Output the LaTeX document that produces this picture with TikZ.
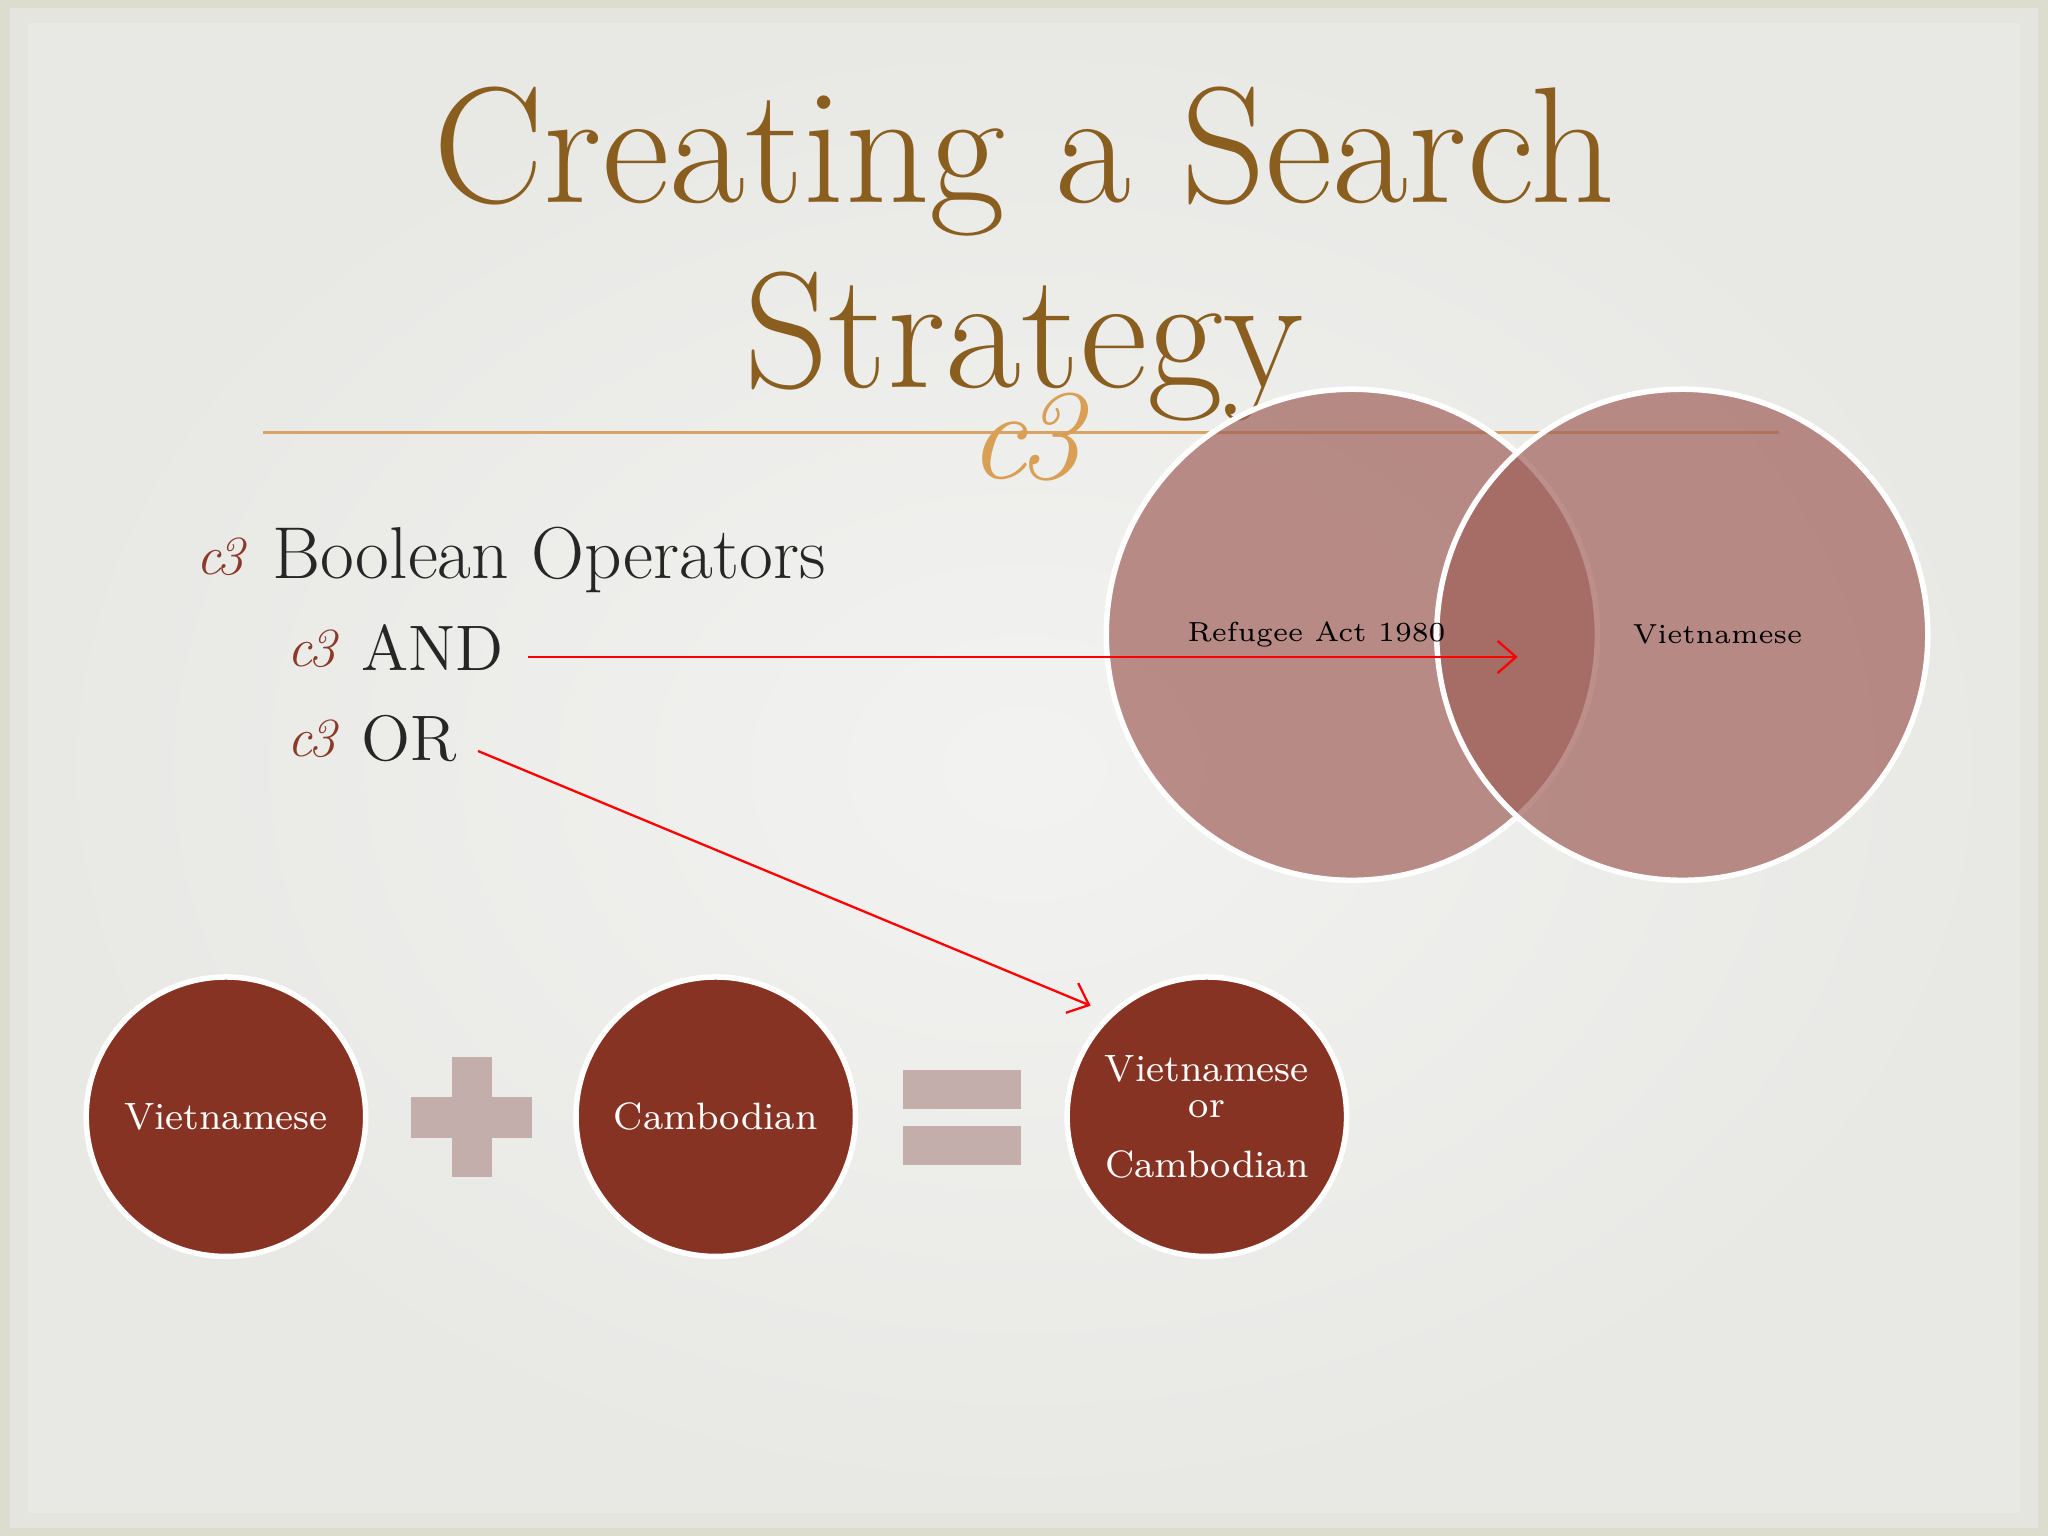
\documentclass[tikz,border=0pt]{standalone}
\usetikzlibrary{arrows.meta}
\definecolor{bgc}{HTML}{E8E8E5}
\definecolor{edge}{HTML}{DCDDCF}
\definecolor{titlec}{HTML}{8A5E1F}
\definecolor{linec}{HTML}{D6A466}
\definecolor{orn}{HTML}{D9A055}
\definecolor{bul}{HTML}{8B3A2A}
\definecolor{venn}{HTML}{A0605A}
\definecolor{dark}{HTML}{873324}
\definecolor{opc}{HTML}{C4AEAB}
\tikzset{
 bigc/.style={circle,draw=white,line width=1.2pt,fill=dark,minimum size=214*0.01cm,inner sep=0pt,text=white,font=\fontsize{8.3}{11}\selectfont,align=center},
 vc/.style={circle,draw=white,line width=1.2pt,fill=venn,fill opacity=0.7,minimum size=376*0.01cm,inner sep=0pt},
 lbl/.style={font=\fontsize{6}{8}\selectfont,text=black},
 arr/.style={red,line width=0.5pt,-{Straight Barb[length=4pt,width=7pt]}},
 bt/.style={anchor=base west,text=black!85},
 bl/.style={anchor=base west,text=bul,font=\itshape\fontsize{12}{13}\selectfont}
}
\begin{document}
\begin{tikzpicture}[x=0.01cm,y=-0.01cm]
\useasboundingbox (0,0) rectangle (1568,1176);
\fill[edge] (0,0) rectangle (1568,1176);
\fill[bgc!70!edge] (8,6) rectangle (1560,1170);
\shade[inner color=bgc!55!white,outer color=bgc] (22,18) rectangle (1546,1158);
% title
\node[text=titlec,font=\fontsize{36}{40}\selectfont,anchor=base] (t1) at (784,155) {Creating a Search};
\node[text=titlec,font=\fontsize{36}{40}\selectfont,anchor=base] (t2) at (784,297) {Strategy};
\draw[linec,line width=0.7pt] (201,331) -- (1362,331);
\node[text=orn,font=\itshape\fontsize{28}{28}\selectfont] (orn) at (785,335) {c\kern-2pt3};
% bullets
\node[bl] (b0) at (138,440) {c\kern-1pt3};
\node[bt,font=\fontsize{16}{18}\selectfont] (bo) at (196,443) {Boolean Operators};
\node[bl] (b1) at (208,510) {c\kern-1pt3};
\node[bt,font=\fontsize{14}{16}\selectfont] (and) at (264,513) {AND};
\node[bl] (b2) at (208,579) {c\kern-1pt3};
\node[bt,font=\fontsize{14}{16}\selectfont] (or) at (264,582) {OR};
% venn
\node[vc] (v1) at (1035,486) {};
\node[vc] (v2) at (1288,486) {};
\node[lbl] (l1) at (1008,486) {Refugee Act 1980};
\node[lbl] (l2) at (1315,486) {Vietnamese};
% bottom
\node[bigc] (c1) at (173,855) {Vietnamese};
\node[bigc] (c2) at (548,855) {Cambodian};
\node[bigc] (c3) at (924,855) {Vietnamese\\[-3pt]or\\[2pt]Cambodian};
\fill[opc] (346,809) rectangle (377,901);
\fill[opc] (315,840) rectangle (407,871);
\fill[opc] (691,819) rectangle (782,849);
\fill[opc] (691,862) rectangle (782,892);
% arrows
\coordinate (a1) at (1162,503);
\coordinate (a2) at (835,770);
\draw[arr] (and.east |- 0,503) ++(6,0) -- (a1);
\draw[arr] (366,575) coordinate (os) -- (a2);
\end{tikzpicture}
\end{document}
